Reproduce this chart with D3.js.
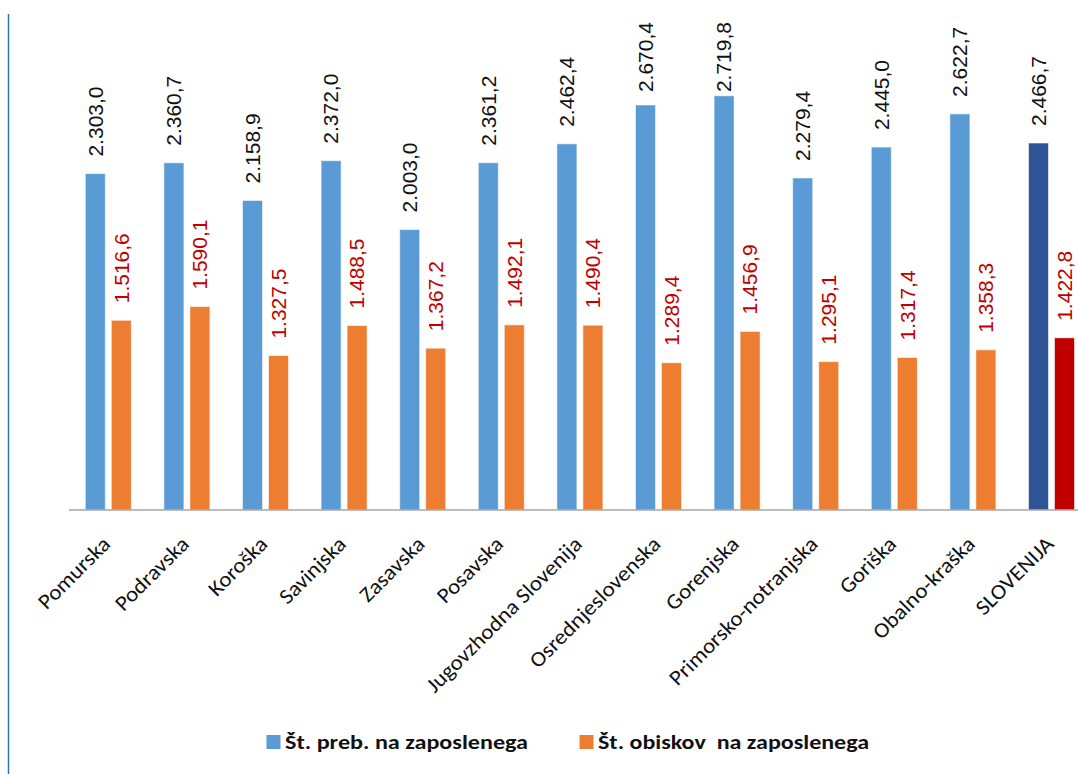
<!DOCTYPE html>
<html>
<head>
<meta charset="utf-8">
<script src="https://cdn.jsdelivr.net/npm/d3@7"></script>
<style>
  html, body { margin: 0; padding: 0; background: #fff; }
  svg { display: block; }
</style>
</head>
<body>
<svg id="chart" width="1078" height="774"></svg>
<script>
const categories = ["Pomurska", "Podravska", "Koroška", "Savinjska", "Zasavska", "Posavska",
  "Jugovzhodna Slovenija", "Osrednjeslovenska", "Gorenjska", "Primorsko-notranjska",
  "Goriška", "Obalno-kraška", "SLOVENIJA"];
const prebivalci = [2303.0, 2360.7, 2158.9, 2372.0, 2003.0, 2361.2, 2462.4, 2670.4, 2719.8, 2279.4, 2445.0, 2622.7, 2466.7];
const obiski = [1516.6, 1590.1, 1327.5, 1488.5, 1367.2, 1492.1, 1490.4, 1289.4, 1456.9, 1295.1, 1317.4, 1358.3, 1422.8];
const seriesNames = ["Št. preb. na zaposlenega", "Št. obiskov  na zaposlenega"];
const yDomain = [500, 3000];

const svg = d3.select("#chart");
const W = 1078, H = 774;

// left border line
svg.append("line")
  .attr("x1", 8.5).attr("x2", 8.5).attr("y1", 14).attr("y2", H)
  .attr("stroke", "#2e75b6").attr("stroke-width", 1.5);

const x0 = d3.scaleBand().domain(categories).range([69, 69 + 13 * 78.6]).padding(0);
const groupW = 46;
const x1 = d3.scaleBand().domain([0, 1]).range([0, groupW]).paddingInner(6 / 26).paddingOuter(0);
const y = d3.scaleLinear().domain(yDomain).range([510, 43.5]);

const loc = d3.formatLocale({decimal: ",", thousands: ".", grouping: [3], currency: ["", " €"]});
const fmt = loc.format(",.1f");

const colorFor = (i, s) => {
  if (i === categories.length - 1) return s === 0 ? "#2f5597" : "#c00000";
  return s === 0 ? "#5b9bd5" : "#ed7d31";
};

const data = [];
categories.forEach((c, i) => {
  data.push({c, i, s: 0, v: prebivalci[i]});
  data.push({c, i, s: 1, v: obiski[i]});
});

const gx = c => x0(c) + (x0.bandwidth() - groupW) / 2;

svg.append("g").selectAll("rect").data(data).join("rect")
  .attr("x", d => gx(d.c) + x1(d.s))
  .attr("width", x1.bandwidth())
  .attr("y", d => y(d.v))
  .attr("height", d => y(yDomain[0]) - y(d.v))
  .attr("fill", d => colorFor(d.i, d.s))
  .attr("stroke", "rgba(255,255,255,0.55)")
  .attr("stroke-width", 1);

// axis line
const axis = d3.axisBottom(x0).tickSize(0).tickFormat("");
const ax = svg.append("g").attr("transform", `translate(0,${y(yDomain[0])})`).call(axis);
ax.select(".domain").attr("stroke", "#a6a6a6").attr("stroke-width", 1.5)
  .attr("d", `M69,0H${W}`);

// value labels
const labFs = 21;
const labels = svg.append("g").selectAll("text").data(data).join("text")
  .attr("font-family", "'Liberation Sans', Arial, sans-serif")
  .attr("font-size", labFs)
  .attr("fill", d => d.s === 0 ? "#111" : "#c00000")
  .attr("text-anchor", "start")
  .attr("dy", "0.35em")
  .text(d => fmt(d.v));
labels.each(function(d) {
  const len = this.getComputedTextLength();
  const cx = gx(d.c) + x1(d.s) + x1.bandwidth() / 2;
  let yb = y(d.v) - 17;
  if (yb - len < 22) yb = 22 + len;
  d3.select(this).attr("transform", `translate(${cx},${yb}) rotate(-90)`);
});

// category labels
const catFs = 21.5;
const catG = svg.append("g");
const catText = catG.selectAll("text").data(categories).join("text")
  .attr("font-family", "Carlito, Lato, 'Open Sans', sans-serif")
  .attr("font-size", catFs)
  .attr("fill", "#111")
  .attr("text-anchor", "end")
  .attr("dy", "0.35em")
  .text(d => d);
let refLen = 0;
catText.each(function(d) { if (d === "Jugovzhodna Slovenija") refLen = this.getComputedTextLength(); });
const catK = 210 / refLen;
catText.each(function() {
  const l = this.getComputedTextLength();
  d3.select(this).attr("textLength", l * catK).attr("lengthAdjust", "spacingAndGlyphs");
});
catText.attr("transform", d => `translate(${x0(d) + x0.bandwidth() / 2 - 2},540) rotate(-45)`);

// legend
const legG = svg.append("g");
const legX = [285, 598];
const legW = [243, 271];
const legT = legG.selectAll("text").data(seriesNames).join("text")
  .attr("x", (d, i) => legX[i])
  .attr("y", 749)
  .attr("font-family", "Carlito, Lato, 'Open Sans', sans-serif")
  .attr("font-weight", "bold")
  .attr("font-size", 20)
  .attr("fill", "#111")
  .style("white-space", "pre")
  .text(d => d);
legT.attr("textLength", (d, i) => legW[i]).attr("lengthAdjust", "spacingAndGlyphs");
legG.selectAll("rect").data(seriesNames).join("rect")
  .attr("x", (d, i) => legX[i] - 18.5)
  .attr("y", 735)
  .attr("width", 14).attr("height", 14)
  .attr("fill", (d, i) => i === 0 ? "#5b9bd5" : "#ed7d31");
</script>
</body>
</html>
